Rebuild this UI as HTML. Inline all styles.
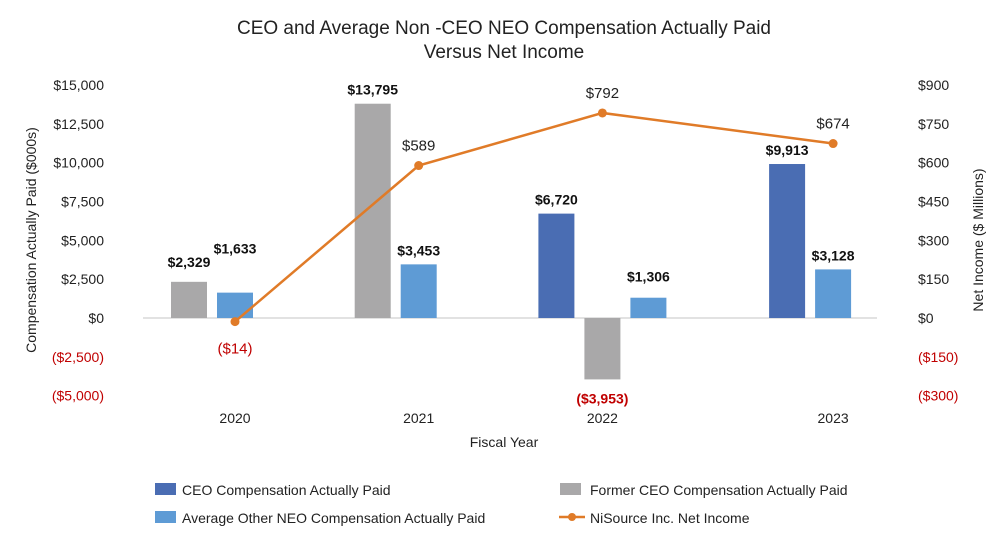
<!DOCTYPE html>
<html><head><meta charset="utf-8"><style>
body{margin:0;background:#fff;font-family:"Liberation Sans",sans-serif}
svg text{font-family:"Liberation Sans",sans-serif}
</style></head><body>
<svg id="c" width="1008" height="542" xmlns="http://www.w3.org/2000/svg">
<text x="504" y="34" text-anchor="middle" font-size="19" fill="#222">CEO and Average Non -CEO NEO Compensation Actually Paid</text>
<text x="504" y="58" text-anchor="middle" font-size="19" fill="#222">Versus Net Income</text>
<text transform="translate(36,240) rotate(-90)" text-anchor="middle" font-size="14" fill="#222">Compensation Actually Paid ($000s)</text>
<text transform="translate(983,240) rotate(-90)" text-anchor="middle" font-size="14" fill="#222">Net Income ($ Millions)</text>
<text x="504" y="447" text-anchor="middle" font-size="14" fill="#222">Fiscal Year</text>
<line x1="143" y1="318" x2="877" y2="318" stroke="#d9d9d9" stroke-width="1.5"/>
<g id="bars"></g><g id="line"></g><g id="labels"></g>
<g>
<rect x="155" y="483" width="21" height="12" fill="#4a6db3"/>
<text x="182" y="495" font-size="14" fill="#222">CEO Compensation Actually Paid</text>
<rect x="560" y="483" width="21" height="12" fill="#a9a8a9"/>
<text x="590" y="495" font-size="14" fill="#222">Former CEO Compensation Actually Paid</text>
<rect x="155" y="511" width="21" height="12" fill="#5e9bd5"/>
<text x="182" y="523" font-size="14" fill="#222">Average Other NEO Compensation Actually Paid</text>
<line x1="559" y1="517" x2="585" y2="517" stroke="#e07b28" stroke-width="2.5"/>
<circle cx="572" cy="517" r="4" fill="#e07b28"/>
<text x="590" y="523" font-size="14" fill="#222">NiSource Inc. Net Income</text>
</g>
</svg>
<script>
const categories=["2020","2021","2022","2023"];
const ceoComp=[null,null,6720,9913];
const formerCeoComp=[2329,13795,-3953,null];
const otherNeoComp=[1633,3453,1306,3128];
const netIncome=[-14,589,792,674];
const leftTicks=[15000,12500,10000,7500,5000,2500,0,-2500,-5000];
const rightTicks=[900,750,600,450,300,150,0,-150,-300];
const NS="http://www.w3.org/2000/svg";
const svg=document.getElementById('c');
const yL=v=>318-v*233/15000;
const yR=v=>318-v*233/900;
const xC=i=>235+183.7*i+(i===3?47:0);
const fmt=v=>{const s="$"+Math.abs(v).toLocaleString("en-US");return v<0?"("+s+")":s;};
function mk(tag,attrs,parent){const e=document.createElementNS(NS,tag);for(const k in attrs)e.setAttribute(k,attrs[k]);(parent||svg).appendChild(e);return e;}
leftTicks.forEach(t=>{const e=mk('text',{x:104,y:yL(t)+5,'text-anchor':'end','font-size':14,fill:t<0?'#c00000':'#222'});e.textContent=t<0?"($"+Math.abs(t).toLocaleString("en-US")+")":"$"+t.toLocaleString("en-US");

});
rightTicks.forEach(t=>{const e=mk('text',{x:918,y:yR(t)+5,'font-size':14,fill:t<0?'#c00000':'#222'});e.textContent=t<0?"($"+Math.abs(t)+")":"$"+t;

});
categories.forEach((c,i)=>{const e=mk('text',{x:xC(i),y:423,'text-anchor':'middle','font-size':14,fill:'#222'});e.textContent=c;

});
const series=[[ceoComp,'#4a6db3','ceo'],[formerCeoComp,'#a9a8a9','former-ceo'],[otherNeoComp,'#5e9bd5','other-neo']];
const bars=document.getElementById('bars'),labels=document.getElementById('labels');
categories.forEach((c,i)=>{let slot=0;series.forEach(([arr,col,nm])=>{const v=arr[i];if(v===null)return;
const cx=xC(i)-46+46*slot;slot++;
const y0=yL(0),y1=yL(v);
const r=mk('rect',{x:cx-18,y:Math.min(y0,y1),width:36,height:Math.abs(y1-y0),fill:col},bars);


let ly=v>=0?y1-9:y1+24;
if(nm==='former-ceo'&&i===0)ly-=6;
if(nm==='other-neo'&&i===0)ly-=30;
if(nm==='other-neo'&&i===2)ly-=7;
const t=mk('text',{x:cx,y:ly,'text-anchor':'middle','font-size':14,'font-weight':'bold',fill:v<0?'#c00000':'#111'},labels);t.textContent=fmt(v);

});});
const lg=document.getElementById('line');
const pts=netIncome.map((v,i)=>xC(i)+","+yR(v)).join(" ");
const pl=mk('polyline',{points:pts,fill:'none',stroke:'#e07b28','stroke-width':2.5},lg);


netIncome.forEach((v,i)=>{const p=mk('circle',{cx:xC(i),cy:yR(v),r:4.5,fill:'#e07b28'},lg);


const t=mk('text',{x:xC(i),y:v<0?yR(v)+32:yR(v)-15,'text-anchor':'middle','font-size':15,fill:v<0?'#c00000':'#222'},labels);t.textContent=fmt(v);

});
</script>
</body></html>
